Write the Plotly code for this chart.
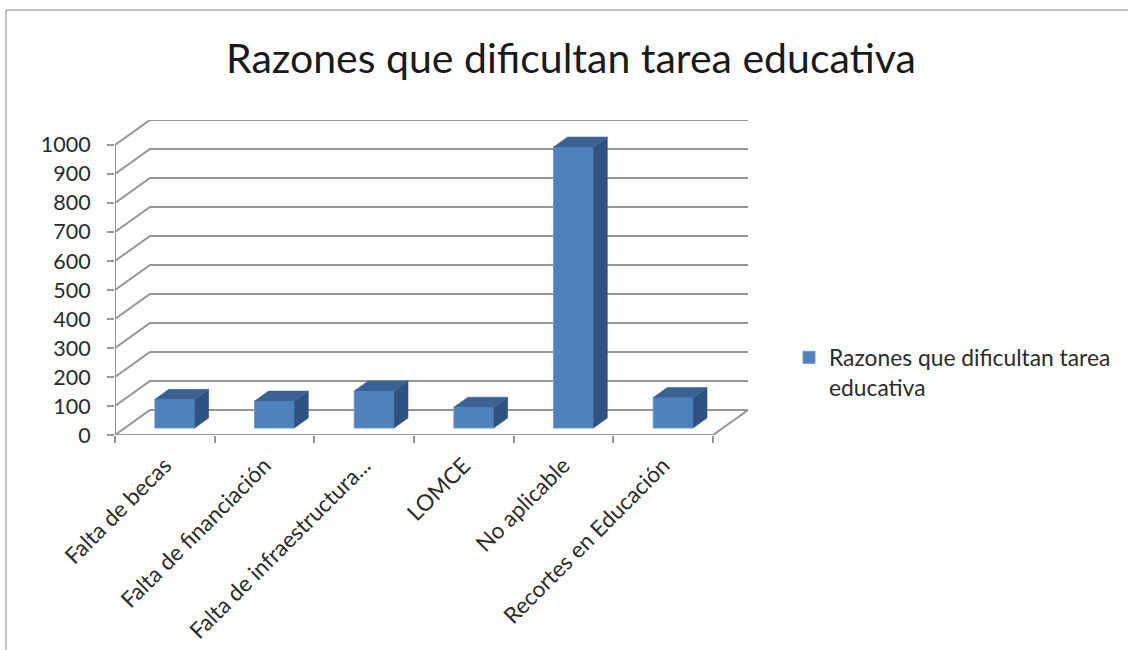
import plotly.graph_objects as go

TITLE = "Razones que dificultan tarea educativa"
SERIES = "Razones que dificultan tarea<br>educativa"
CATEGORIES = ["Falta de becas", "Falta de financiación", "Falta de infraestructura...",
              "LOMCE", "No aplicable", "Recortes en Educación"]
VALUES = [99, 93, 128, 72, 969, 105]
Y_TICKS = [0, 100, 200, 300, 400, 500, 600, 700, 800, 900, 1000]

# plot box in pixels
L, R, T, B = 115, 748, 120, 435
W, H = 1128, 650
WALL_DX, WALL_DY = 0.351, 86     # oblique depth of the back wall, in axis units
BAR_DX, BAR_DY = 0.14, 34.5      # oblique depth of a bar
BAR_W, BAR_OFF, BAR_BASE = 0.40, 0.40, 24

FONT = "Lato, Carlito, sans-serif"
TXT = "#2b2b2b"
GRID = "#969696"
FRONT, SIDE, TOP = "#4f81bd", "#2f5380", "#3b6292"

n = len(CATEGORIES)
xr = [0, n + WALL_DX]
yr = [0, 1000 + WALL_DY]

fig = go.Figure()

# walls and floor
gx, gy = [], []
for v in Y_TICKS:
    gx += [0, WALL_DX, n + WALL_DX, None]
    gy += [v, v + WALL_DY, v + WALL_DY, None]
fig.add_trace(go.Scatter(x=gx, y=gy, mode="lines", line=dict(color=GRID, width=2),
                         showlegend=False, hoverinfo="skip", cliponaxis=False))
fig.add_trace(go.Scatter(x=[0, 0, None, 0, n, n + WALL_DX], y=[1000, 0, None, 0, 0, WALL_DY],
                         mode="lines", line=dict(color=GRID, width=2),
                         showlegend=False, hoverinfo="skip", cliponaxis=False))

# bars
xs = [i + BAR_OFF + BAR_W / 2 for i in range(n)]
fig.add_trace(go.Bar(x=xs, y=VALUES, base=BAR_BASE, width=BAR_W, name=SERIES,
                     marker=dict(color=FRONT, line=dict(color="#6f9bd1", width=1)),
                     xaxis="x2", yaxis="y2", showlegend=True))
sx, sy, tx, ty = [], [], [], []
for c, v in zip(xs, VALUES):
    a, b = c - BAR_W / 2, c + BAR_W / 2
    t = BAR_BASE + v
    sx += [b, b + BAR_DX, b + BAR_DX, b, b, None]
    sy += [BAR_BASE, BAR_BASE + BAR_DY, t + BAR_DY, t, BAR_BASE, None]
    tx += [a, a + BAR_DX, b + BAR_DX, b, a, None]
    ty += [t, t + BAR_DY, t + BAR_DY, t, t, None]
fig.add_trace(go.Scatter(x=sx, y=sy, mode="lines", fill="toself", fillcolor=SIDE,
                         line=dict(color=SIDE, width=0.5), xaxis="x2", yaxis="y2",
                         showlegend=False, hoverinfo="skip"))
fig.add_trace(go.Scatter(x=tx, y=ty, mode="lines", fill="toself", fillcolor=TOP,
                         line=dict(color=TOP, width=0.5), xaxis="x2", yaxis="y2",
                         showlegend=False, hoverinfo="skip"))

pw, ph = R - L, B - T
px = lambda p: (p - L) / pw
py = lambda p: (B - p) / ph

fig.update_layout(
    width=W, height=H, autosize=False,
    margin=dict(l=L, r=W - R, t=T, b=H - B),
    paper_bgcolor="white", plot_bgcolor="rgba(0,0,0,0)",
    font=dict(family=FONT, color=TXT, size=20),
    barmode="overlay",
    title=dict(text=TITLE, x=571 / W, xanchor="center", y=1 - 59 / H, yanchor="middle",
               font=dict(family=FONT, size=41, color="#1a1a1a")),
    xaxis=dict(range=xr, tickmode="array", tickvals=list(range(n + 1)), automargin=False,
               ticktext=[""] * (n + 1), ticks="outside", ticklen=7, tickwidth=2,
               tickcolor=GRID, showgrid=False, zeroline=False, showline=False, fixedrange=True),
    yaxis=dict(range=yr, tickmode="array", tickvals=Y_TICKS, ticks="outside", ticklen=7,
               tickwidth=2, tickcolor=GRID, showgrid=False, zeroline=False, showline=False,
               automargin=False, ticklabelstandoff=12,
               tickfont=dict(size=21.5, family=FONT, color=TXT), fixedrange=True),
    xaxis2=dict(range=xr, overlaying="x", anchor="y2", tickmode="array", automargin=False,
                tickvals=[i + 0.5 for i in range(n)], ticktext=CATEGORIES, tickangle=-45,
                ticks="", ticklabelstandoff=12, tickfont=dict(size=22.5, family=FONT, color=TXT),
                showgrid=False, zeroline=False, showline=False, fixedrange=True),
    yaxis2=dict(range=yr, overlaying="y", anchor="x2", visible=False, automargin=False, fixedrange=True),
    legend=dict(x=px(789), y=py(336), xanchor="left", yanchor="top", valign="top",
                bgcolor="rgba(0,0,0,0)", font=dict(size=22.8, family=FONT, color=TXT)),
    shapes=[dict(type="line", xref="paper", yref="paper", x0=px(6), x1=px(6), y0=py(10), y1=py(650),
                 line=dict(color="#868686", width=1)),
            dict(type="line", xref="paper", yref="paper", x0=px(6), x1=px(1128), y0=py(10), y1=py(10),
                 line=dict(color="#868686", width=1))],
)
fig.write_html("out.html", config=dict(displayModeBar=False),
               post_script="document.body.style.margin='0';")
